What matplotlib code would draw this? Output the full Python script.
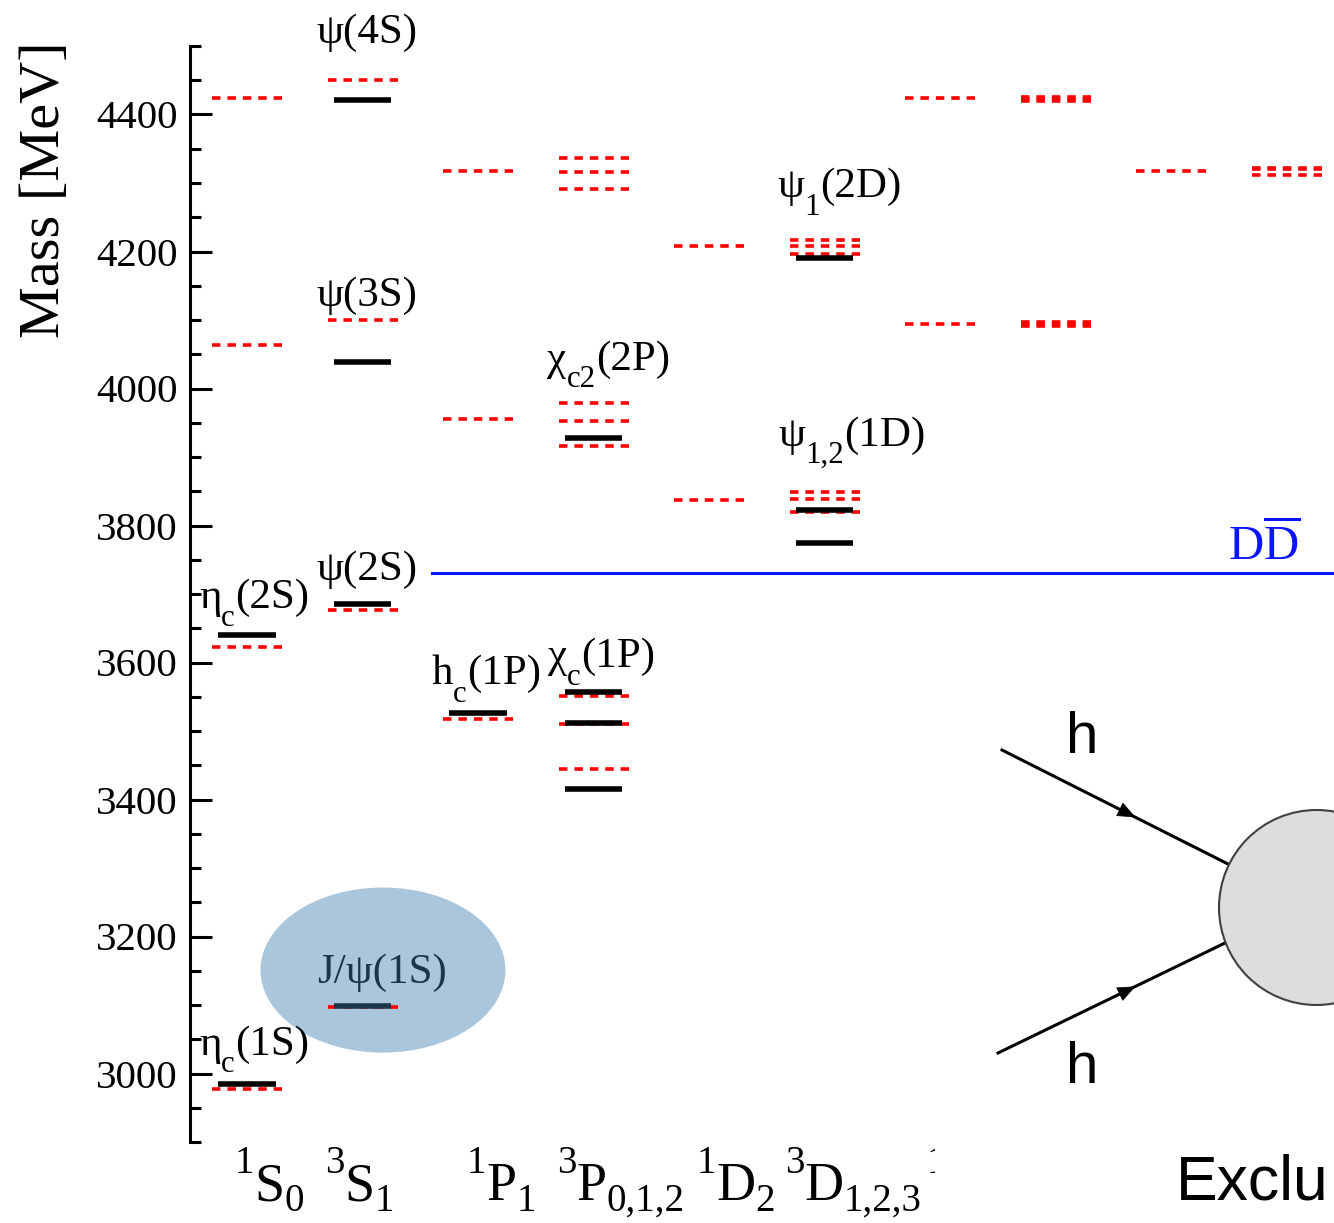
import matplotlib
matplotlib.use('Agg')
import matplotlib.pyplot as plt
from matplotlib.patches import Ellipse, Circle, Rectangle
from matplotlib.transforms import offset_copy

plt.rcParams['font.family'] = 'Liberation Serif'
plt.rcParams['mathtext.default'] = 'regular'
plt.rcParams['lines.scale_dashes'] = False

# spectroscopic columns, as (text, level) pieces: 0 normal, -1 sub, 1 sup
columns = [
    [('1', 1), ('S', 0), ('0', -1)],
    [('3', 1), ('S', 0), ('1', -1)],
    [('1', 1), ('P', 0), ('1', -1)],
    [('3', 1), ('P', 0), ('0,1,2', -1)],
    [('1', 1), ('D', 0), ('2', -1)],
    [('3', 1), ('D', 0), ('1,2,3', -1)],
    [('1', 1), ('F', 0), ('3', -1)],
]

# potential model predictions (red dashed), MeV
pred_1S0 = [2977, 3623, 4064, 4424]
pred_3S1 = [3097, 3676, 4100, 4450]
pred_1P1 = [3518, 3956, 4317]
pred_3P = [3445, 3510, 3551, 3916, 3953, 3979, 4291, 4316, 4336]
pred_1D2 = [3837, 4208]
pred_3D = [3819, 3838, 3849, 4196, 4208, 4217]
pred_1F3 = [4094, 4424]
pred_3F = [4091, 4094, 4097, 4420, 4423, 4426]
pred_1G4 = [4317]
pred_3G = [4312, 4320, 4322]

# observed states (black), MeV
obs_1S0 = [2984, 3640]
obs_3S1 = [3098, 3686, 4039, 4421]
obs_1P1 = [3526]
obs_3P = [3415, 3511, 3557, 3928]
obs_1D2 = []
obs_3D = [3774, 3822, 4191]

jpsi_mass = 3098
dd_threshold = 3730

predicted = [pred_1S0, pred_3S1, pred_1P1, pred_3P, pred_1D2, pred_3D,
             pred_1F3, pred_3F, pred_1G4, pred_3G]
observed = [obs_1S0, obs_3S1, obs_1P1, obs_3P, obs_1D2, obs_3D]

# state labels: pieces, column position, mass of baseline
labels = [
    ([('ψ(4S)', 0)], 1.04, 4504),
    ([('ψ(3S)', 0)], 1.04, 4120),
    ([('ψ(2S)', 0)], 1.04, 3720),
    ([('η', 0), ('c', -1), ('(2S)', 0)], 0.06, 3679),
    ([('η', 0), ('c', -1), ('(1S)', 0)], 0.06, 3027),
    ([('h', 0), ('c', -1), ('(1P)', 0)], 2.07, 3568),
    ([('χ', 0), ('c', -1), ('(1P)', 0)], 3.07, 3593),
    ([('χ', 0), ('c2', -1), ('(2P)', 0)], 3.13, 4027),
    ([('ψ', 0), ('1', -1), ('(2D)', 0)], 5.13, 4279),
    ([('ψ', 0), ('1,2', -1), ('(1D)', 0)], 5.24, 3916),
]
col_label_x = [-0.104, 0.675, 1.905, 2.684, 3.896, 4.658, 5.888]

navy = '#1d3349'

fig = plt.figure(figsize=(13.34, 12.23), dpi=100)
renderer = fig.canvas.get_renderer()


def rich_text(ax, x, y, parts, size, ha='left', sub=0.3, sup=0.48, **kw):
    # place pieces one after another, subscripts lowered and smaller
    placed = []
    dx = 0.0
    for s, lev in parts:
        fs = size * (0.72 if lev else 1.0)
        dy = {0: 0.0, -1: -sub * size, 1: sup * size}[lev] * fig.dpi / 72
        t = ax.text(x, y, s, fontsize=fs, ha='left', va='baseline', clip_on=False,
                    transform=offset_copy(ax.transData, fig=fig, x=dx, y=dy, units='dots'),
                    **kw)
        placed.append((t, dx, dy))
        dx += t.get_window_extent(renderer).width
    if ha == 'center':
        for t, ox, oy in placed:
            t.set_transform(offset_copy(ax.transData, fig=fig, x=ox - dx / 2, y=oy,
                                        units='dots'))


ax = fig.add_axes([190 / 1334, 1 - 1142 / 1223, 1144 / 1334, 1096 / 1223])
ax.set_xlim(-0.4935, 9.411)
ax.set_ylim(2900, 4500)

# J/psi highlight
ax.add_patch(Ellipse((1.177, 3151), 2.121, 241, fc='#a9c6dc', ec='none', zorder=0.5))

for i, levels in enumerate(predicted):
    for m in levels:
        ax.plot([i - 0.303, i + 0.303], [m, m], color='red', lw=2.6,
                dashes=(6.1, 5.0), dash_capstyle='butt', zorder=2)

for i, levels in enumerate(observed):
    for m in levels:
        c = navy if (i == 1 and m == jpsi_mass) else 'black'
        ax.plot([i - 0.247, i + 0.247], [m, m], color=c, lw=4.0,
                solid_capstyle='butt', zorder=3)

ax.plot([1.602, 9.411], [dd_threshold, dd_threshold], color='#0a14ff', lw=2.2, zorder=3)
ax.text(8.805, 3749, r'$D\overline{D}$', color='#0a14ff', fontsize=35,
        ha='center', va='baseline')

for parts, x, m in labels:
    rich_text(ax, x, m, parts, 31, ha='center', sub=0.4, zorder=4)
rich_text(ax, 1.169, 3132, [('J/ψ(1S)', 0)], 31, ha='center', color=navy, zorder=4)

for x, parts in zip(col_label_x, columns):
    rich_text(ax, x, 2815, parts, 39, sub=0.19, sup=0.5)

ax.set_xticks([])
ax.set_yticks(range(3000, 4401, 200))
ax.set_yticks(range(2900, 4501, 50), minor=True)
ax.tick_params(axis='y', which='major', direction='in', length=15.8, width=2.2,
               pad=8.6, labelsize=29.5)
ax.tick_params(axis='y', which='minor', direction='in', length=7.9, width=2.2)
for s in ['top', 'right', 'bottom']:
    ax.spines[s].set_visible(False)
ax.spines['left'].set_linewidth(2.2)
ax.patch.set_alpha(0)

fig.text(45 / 1334, 1 - 190 / 1223, 'Mass [MeV]', rotation=90, ha='center',
         va='center', fontsize=42)

# overlaid diagram, pixel coordinates
ax2 = fig.add_axes([0, 0, 1, 1])
ax2.set_xlim(0, 1334)
ax2.set_ylim(1223, 0)
ax2.axis('off')
ax2.patch.set_alpha(0)

ax2.add_patch(Rectangle((935, 1100), 399, 123, fc='white', ec='none', zorder=1))
ax2.plot([1002, 1230], [750, 865], color='black', lw=2.2, zorder=2)
ax2.plot([998, 1225], [1053, 943], color='black', lw=2.2, zorder=2)
for tip, tail in [((1138, 818.6), (1120, 809.5)), ((1138, 985.2), (1120, 993.9))]:
    ax2.annotate('', xy=tip, xytext=tail,
                 arrowprops=dict(arrowstyle='-|>,head_length=0.6,head_width=0.25',
                                 color='black', lw=0.5, mutation_scale=20))
ax2.add_patch(Circle((1316.5, 907.5), 97.5, fc='#dddddd', ec='#404040', lw=1.5, zorder=3))
ax2.text(1082, 753, 'h', family='Liberation Sans', fontsize=42, ha='center', va='baseline')
ax2.text(1082, 1083, 'h', family='Liberation Sans', fontsize=42, ha='center', va='baseline')
ax2.text(1176, 1200, 'Exclu', family='Liberation Sans', fontsize=45,
         ha='left', va='baseline', zorder=4)

fig.savefig('out.png', dpi=100)
